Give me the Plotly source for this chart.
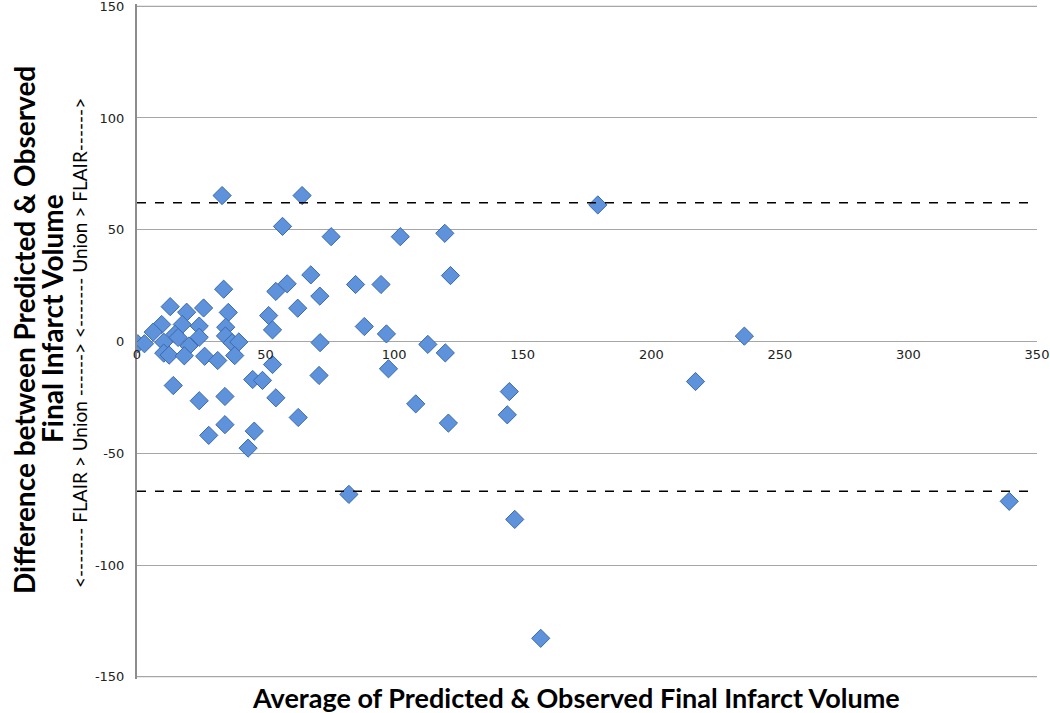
import plotly.graph_objects as go

avg_volume = [33.1, 64.2, 56.6, 75.5, 102.4, 119.7, 179.2, 33.7, 54.0, 58.4,
              67.6, 71.1, 85.0, 94.9, 121.9, 12.9, 19.3, 25.9, 35.5, 51.2,
              62.5, 9.6, 17.6, 24.2, 34.5, 52.7, 88.4, 6.3, 14.8, 16.0,
              24.2, 34.4, 97.0, 236.2, 0.3, 2.9, 10.4, 20.2, 37.0, 39.6,
              71.2, 113.1, 10.4, 12.5, 18.4, 26.3, 31.4, 38.0, 52.7, 119.9,
              97.8, 14.1, 45.0, 48.8, 70.8, 217.2, 144.8, 24.2, 34.2, 54.0,
              108.4, 62.7, 144.0, 121.1, 27.9, 34.2, 45.6, 43.2, 82.4, 146.9,
              157.0, 339.2]
diff_volume = [65.3, 65.3, 51.5, 46.9, 46.9, 48.4, 61.1, 23.4, 22.4, 25.8,
               29.8, 20.3, 25.5, 25.5, 29.5, 15.6, 13.1, 15.0, 13.0, 11.6,
               14.9, 7.6, 7.6, 6.9, 6.4, 5.2, 6.7, 4.2, 3.2, 1.8,
               1.9, 2.5, 3.4, 2.4, -1.0, -1.0, -0.3, -2.0, -0.6, -0.2,
               -0.5, -1.3, -5.2, -6.1, -6.4, -6.6, -8.5, -6.3, -10.3, -5.1,
               -12.2, -19.7, -17.0, -17.4, -15.2, -17.9, -22.4, -26.5, -24.6, -25.2,
               -27.9, -34.0, -32.8, -36.5, -42.0, -37.2, -40.1, -47.7, -68.4, -79.6,
               -132.8, -71.5]
upper_limit = 62.1
lower_limit = -67.0
x_ticks = [0, 50, 100, 150, 200, 250, 300, 350]
y_ticks = [-150, -100, -50, 0, 50, 100, 150]
y_tick_labels = [str(v) for v in y_ticks]

FONT = "Lato, Open Sans, sans-serif"
TICKFONT = dict(family="DejaVu Sans, Verdana, sans-serif", size=13, color="#222222")
GRID = "#A6A6A6"

fig = go.Figure()
fig.add_trace(go.Scatter(
    x=avg_volume, y=diff_volume, mode="markers",
    marker=dict(symbol="diamond", size=14, color="#5E92DA",
                line=dict(color="#3A69B0", width=1)),
    showlegend=False, hoverinfo="x+y"))

# boundary gridlines (plotly drops gridlines at the very ends of the range)
for edge in (y_ticks[0], y_ticks[-1]):
    fig.add_shape(type="line", xref="paper", yref="y", x0=0, x1=1, y0=edge, y1=edge,
                  line=dict(color=GRID, width=1), layer="below")

for lim in (upper_limit, lower_limit):
    fig.add_shape(type="line", xref="x", yref="y", x0=0, x1=350, y0=lim, y1=lim,
                  line=dict(color="black", width=1.5, dash="dash"), layer="above")

def px_x(p):
    return (p - 137) / 900

def px_y(p):
    return (679 - p) / 675

fig.update_layout(
    width=1050, height=713,
    margin=dict(l=137, r=13, t=4, b=34, autoexpand=False),
    paper_bgcolor="white", plot_bgcolor="white",
    xaxis=dict(range=[0, 350], tickvals=x_ticks, showgrid=False, zeroline=False,
               showline=False, anchor="free", position=0.5, ticks="",
               ticklabelstandoff=3, tickfont=TICKFONT, ticklabeloverflow="allow",
               automargin=False),
    yaxis=dict(range=[-151, 151], tickvals=y_ticks, ticktext=y_tick_labels,
               showgrid=True, gridcolor=GRID, gridwidth=1, zeroline=False,
               showline=True, linecolor="#8C8C8C", linewidth=2, ticks="",
               ticklen=0, ticklabelstandoff=8, tickfont=TICKFONT,
               ticklabeloverflow="allow", automargin=False),
    annotations=[
        dict(text="<b>Average of Predicted &amp; Observed Final Infarct Volume</b>",
             xref="paper", yref="paper", x=px_x(576), y=px_y(697), xanchor="center",
             yanchor="middle", showarrow=False,
             font=dict(family=FONT, size=27, color="black")),
        dict(text="<b>Difference between Predicted &amp; Observed</b>",
             xref="paper", yref="paper", x=px_x(24), y=px_y(330),
             xanchor="center", yanchor="middle", textangle=-90, showarrow=False,
             font=dict(family=FONT, size=28, color="black")),
        dict(text="<b>Final Infarct Volume</b>",
             xref="paper", yref="paper", x=px_x(52), y=px_y(319),
             xanchor="center", yanchor="middle", textangle=-90, showarrow=False,
             font=dict(family=FONT, size=28, color="black")),
        dict(text="&lt;------- FLAIR &gt; Union ------&gt; &lt;------- Union &gt; FLAIR------&gt;",
             xref="paper", yref="paper", x=px_x(79), y=px_y(343),
             xanchor="center", yanchor="middle", textangle=-90, showarrow=False,
             font=dict(family=FONT, size=19, color="black")),
    ],
)

fig.write_html("out.html", config={"displayModeBar": False},
               post_script="document.body.style.margin='0';")
